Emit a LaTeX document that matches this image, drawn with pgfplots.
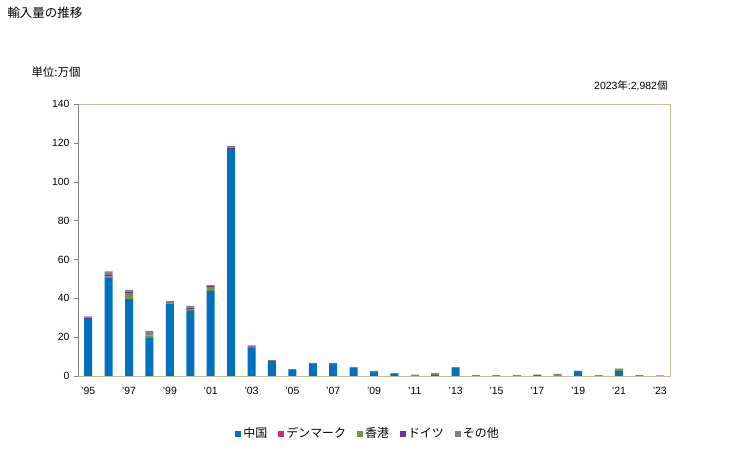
\documentclass[border=0pt]{standalone}
\usepackage{fontspec}
\setmainfont{Liberation Sans}
\newfontfamily\jp{Noto Sans CJK JP}
\usepackage{pgfplots}
\pgfplotsset{compat=1.18}
\definecolor{cChina}{HTML}{0070C0}
\definecolor{cDen}{HTML}{D6246E}
\definecolor{cHK}{HTML}{77933C}
\definecolor{cGer}{HTML}{7030A0}
\definecolor{cOth}{HTML}{808080}
\definecolor{beige}{HTML}{C4BD97}
\begin{document}
\begin{tikzpicture}
\useasboundingbox (0,0) rectangle (729bp,450bp);
\node[anchor=west,font=\jp\fontsize{12.5}{14}\selectfont] at (4bp,437bp) {輸入量の推移};
\node[anchor=west,font=\jp\fontsize{11.5}{13}\selectfont] at (28bp,378bp) {単位:万個};
\node[anchor=east,font=\fontsize{10.5}{12}\selectfont] at (671bp,364bp) {2023{\jp 年}:2,982{\jp 個}};
\begin{axis}[
  at={(78bp,74bp)}, anchor=south west,
  scale only axis, width=592bp, height=272bp,
  ybar stacked, bar width=8bp,
  xmin=1994.5, xmax=2023.5, ymin=0, ymax=140,
  ytick={0,20,...,140},
  xtick={1995,1997,...,2023},
  xticklabels={{'95},{'97},{'99},{'01},{'03},{'05},{'07},{'09},{'11},{'13},{'15},{'17},{'19},{'21},{'23}},
  xtick style={draw=none},
  ytick pos=left, tick align=outside, major tick length=4bp,
  ytick style={color=cOth},
  axis line style={color=beige},
  tick label style={font=\fontsize{10.5}{12}\selectfont},
  /pgf/number format/assume math mode=true,
  yticklabel style={xshift=-1bp},
  xticklabel style={yshift=-4bp},
  legend style={at={(0.49,-0.175)}, anchor=north, draw=none, legend columns=5,
    font=\jp\fontsize{12}{14}\selectfont,
    /tikz/every even column/.append style={column sep=9bp}},
  legend image code/.code={\fill[#1,draw=none] (0bp,-3bp) rectangle (6bp,3bp);},
]
\addplot[fill=cChina,draw=none] coordinates {(1995,29.3)(1996,50.6)(1997,39.6)(1998,19.6)(1999,37.2)(2000,33.5)(2001,43.7)(2002,116.8)(2003,14.6)(2004,7.7)(2005,3.1)(2006,6.2)(2007,6.2)(2008,4.1)(2009,2.1)(2010,1.0)(2011,0)(2012,0.5)(2013,4.1)(2014,0)(2015,0)(2016,0)(2017,0.5)(2018,0.3)(2019,2.1)(2020,0)(2021,2.5)(2022,0)(2023,0)};
\addplot[fill=cDen,draw=none] coordinates {(1995,0)(1996,0.5)(1997,0)(1998,0)(1999,0)(2000,0)(2001,0)(2002,0)(2003,0)(2004,0)(2005,0)(2006,0)(2007,0)(2008,0)(2009,0)(2010,0)(2011,0)(2012,0)(2013,0)(2014,0)(2015,0)(2016,0)(2017,0)(2018,0)(2019,0.5)(2020,0)(2021,0)(2022,0)(2023,0)};
\addplot[fill=cHK,draw=none] coordinates {(1995,0)(1996,0.3)(1997,3.1)(1998,1.2)(1999,0)(2000,1.0)(2001,2.1)(2002,0)(2003,0)(2004,0)(2005,0)(2006,0)(2007,0)(2008,0)(2009,0)(2010,0)(2011,0)(2012,0)(2013,0)(2014,0)(2015,0)(2016,0)(2017,0)(2018,0)(2019,0)(2020,0)(2021,1.0)(2022,0)(2023,0)};
\addplot[fill=cGer,draw=none] coordinates {(1995,0.7)(1996,0.5)(1997,0.7)(1998,0)(1999,0)(2000,0.7)(2001,0.7)(2002,0.7)(2003,0.6)(2004,0)(2005,0)(2006,0)(2007,0)(2008,0)(2009,0)(2010,0)(2011,0)(2012,0)(2013,0)(2014,0)(2015,0)(2016,0)(2017,0)(2018,0)(2019,0)(2020,0)(2021,0)(2022,0)(2023,0)};
\addplot[fill=cOth,draw=none] coordinates {(1995,0.7)(1996,1.9)(1997,0.9)(1998,2.4)(1999,1.4)(2000,0.9)(2001,0.3)(2002,0.9)(2003,0.5)(2004,0.5)(2005,0.5)(2006,0.5)(2007,0.5)(2008,0.5)(2009,0.5)(2010,0.5)(2011,0.7)(2012,1.0)(2013,0.5)(2014,0.5)(2015,0.5)(2016,0.5)(2017,0.2)(2018,0.8)(2019,0.1)(2020,0.5)(2021,0.3)(2022,0.5)(2023,0.3)};
\legend{中国,デンマーク,香港,ドイツ,その他}
\draw[cOth] (rel axis cs:0,1) -- (rel axis cs:0,0) -- (rel axis cs:1,0);
\end{axis}
\end{tikzpicture}
\end{document}
